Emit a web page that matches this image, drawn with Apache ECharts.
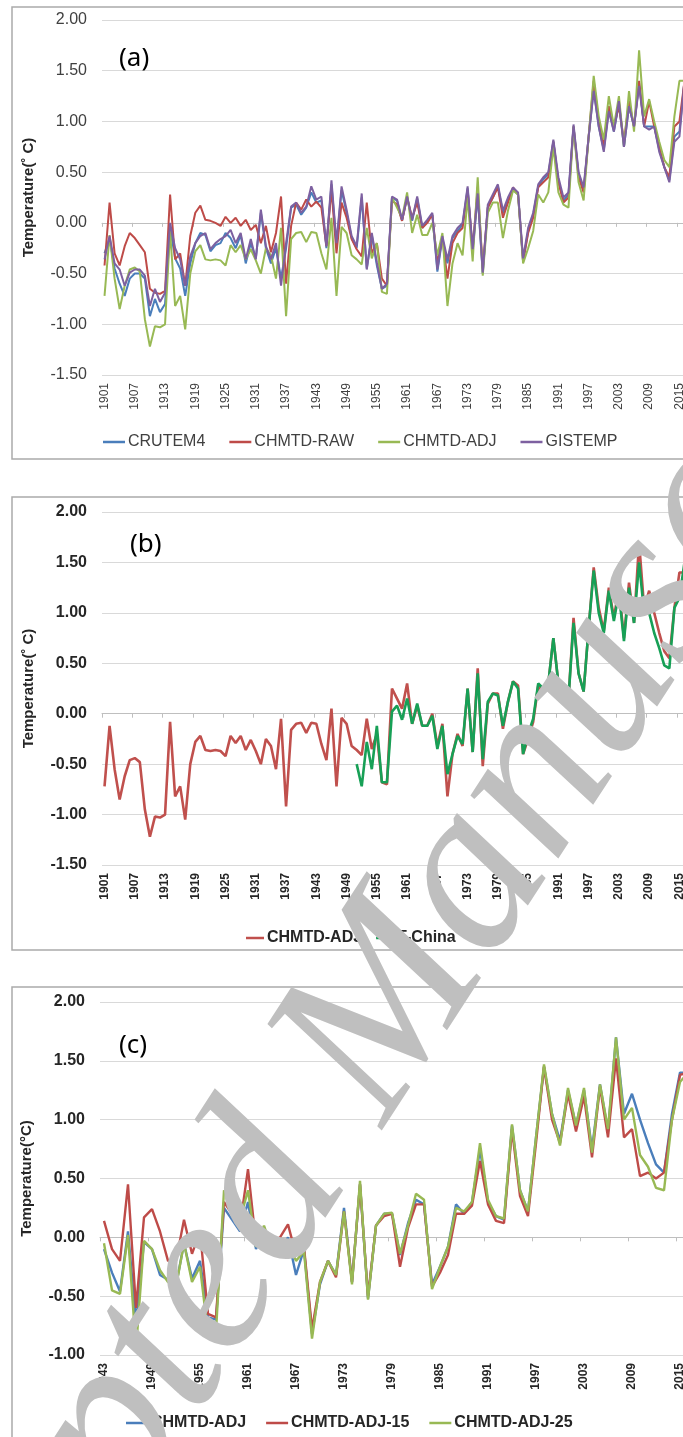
<!DOCTYPE html>
<html><head><meta charset="utf-8">
<script src="https://cdn.jsdelivr.net/npm/echarts@6/dist/echarts.min.js"></script>
<style>html,body{margin:0;padding:0;background:#fff;} #c{width:683px;height:1437px;}</style>
</head><body><div id="c"></div>
<script>
// ---------- categories ----------
const yearsA = []; for (let y = 1901; y <= 2016; y++) yearsA.push(String(y));
const yearsC = []; for (let y = 1943; y <= 2016; y++) yearsC.push(String(y));
const yTicksAB = [-1.5, -1.0, -0.5, 0.0, 0.5, 1.0, 1.5, 2.0];
const yTicksC = [-1.0, -0.5, 0.0, 0.5, 1.0, 1.5, 2.0];

// ---------- panel (a): 1901-2016 ----------
const crutem4 = [
-0.30,-0.15,-0.45,-0.60,-0.72,-0.55,-0.50,-0.50,-0.55,-0.92,
-0.75,-0.88,-0.80,-0.05,-0.35,-0.45,-0.72,-0.40,-0.20,-0.10,
-0.12,-0.28,-0.22,-0.20,-0.10,-0.15,-0.25,-0.12,-0.40,-0.20,
-0.35,0.10,-0.25,-0.40,-0.25,-0.55,-0.25,0.15,0.18,0.08,
0.15,0.30,0.20,0.22,-0.25,0.38,-0.22,0.32,0.10,-0.15,
-0.25,0.25,-0.45,-0.12,-0.42,-0.65,-0.62,0.25,0.22,0.02,
0.25,0.02,0.24,-0.05,0.02,0.08,-0.48,-0.15,-0.40,-0.15,
-0.08,-0.02,0.34,-0.28,0.27,-0.50,0.15,0.25,0.36,0.10,
0.22,0.33,0.28,-0.38,-0.08,0.08,0.36,0.43,0.48,0.80,
0.42,0.22,0.28,0.95,0.48,0.32,0.85,1.32,0.95,0.72,
1.12,0.90,1.18,0.75,1.15,0.95,1.38,0.95,0.95,0.95,
0.72,0.55,0.42,0.85,0.90,1.40];
const chmtdRaw = [
-0.42,0.20,-0.30,-0.42,-0.23,-0.10,-0.15,-0.22,-0.29,-0.65,
-0.69,-0.70,-0.67,0.28,-0.36,-0.30,-0.62,-0.13,0.10,0.17,
0.03,0.02,0.00,-0.03,0.06,0.00,0.05,-0.03,0.03,-0.07,
-0.02,-0.20,-0.03,-0.29,-0.10,0.26,-0.60,-0.03,0.20,0.13,
0.23,0.16,0.21,0.15,-0.23,0.33,-0.30,0.20,0.05,-0.16,
-0.26,-0.33,0.20,-0.30,-0.20,-0.55,-0.62,0.22,0.18,0.02,
0.25,0.05,0.20,-0.05,0.00,0.08,-0.40,-0.15,-0.55,-0.20,
-0.10,-0.05,0.32,-0.25,0.35,-0.45,0.15,0.25,0.35,0.05,
0.20,0.35,0.28,-0.38,-0.10,0.05,0.35,0.40,0.45,0.80,
0.40,0.20,0.25,0.95,0.45,0.30,0.85,1.40,1.00,0.75,
1.15,0.95,1.15,0.80,1.20,0.95,1.40,0.95,1.20,0.95,
0.75,0.55,0.45,0.95,1.00,1.40];
const chmtdAdj = [
-0.72,-0.12,-0.55,-0.85,-0.62,-0.46,-0.44,-0.48,-0.95,-1.22,
-1.02,-1.03,-1.00,-0.08,-0.82,-0.72,-1.05,-0.50,-0.28,-0.22,
-0.36,-0.37,-0.36,-0.37,-0.42,-0.22,-0.29,-0.22,-0.36,-0.26,
-0.37,-0.50,-0.25,-0.32,-0.55,-0.05,-0.92,-0.16,-0.10,-0.09,
-0.19,-0.09,-0.10,-0.30,-0.46,0.05,-0.72,-0.04,-0.10,-0.32,
-0.36,-0.41,-0.05,-0.35,-0.20,-0.68,-0.70,0.25,0.15,0.05,
0.30,-0.10,0.08,-0.12,-0.12,0.00,-0.32,-0.10,-0.82,-0.40,
-0.20,-0.32,0.25,-0.38,0.45,-0.52,0.10,0.20,0.20,-0.15,
0.12,0.32,0.28,-0.40,-0.25,-0.08,0.28,0.20,0.30,0.75,
0.30,0.18,0.15,0.95,0.40,0.22,0.85,1.45,1.05,0.82,
1.25,0.95,1.25,0.75,1.30,0.90,1.70,1.05,1.22,1.00,
0.80,0.62,0.55,1.05,1.40,1.40];
const gistemp = [
-0.36,-0.13,-0.40,-0.46,-0.62,-0.49,-0.46,-0.46,-0.52,-0.82,
-0.65,-0.78,-0.69,0.00,-0.25,-0.36,-0.62,-0.33,-0.20,-0.13,
-0.10,-0.26,-0.20,-0.16,-0.13,-0.07,-0.20,-0.10,-0.36,-0.16,
-0.36,0.13,-0.23,-0.36,-0.20,-0.62,-0.20,0.16,0.20,0.10,
0.16,0.36,0.23,0.26,-0.23,0.42,-0.20,0.36,0.13,-0.13,
-0.23,0.29,-0.46,-0.10,-0.39,-0.65,-0.60,0.26,0.23,0.03,
0.26,0.03,0.26,-0.03,0.03,0.10,-0.46,-0.13,-0.36,-0.13,
-0.05,0.00,0.36,-0.26,0.29,-0.49,0.18,0.28,0.38,0.12,
0.25,0.35,0.30,-0.35,-0.05,0.10,0.38,0.45,0.50,0.82,
0.45,0.25,0.30,0.97,0.50,0.35,0.85,1.30,0.95,0.70,
1.10,0.90,1.20,0.75,1.15,0.95,1.35,0.95,0.92,0.95,
0.70,0.55,0.40,0.80,0.85,1.40];

// ---------- panel (b): T-China 1951-2016 ----------
const tChina = [
-0.50,-0.72,-0.28,-0.55,-0.12,-0.68,-0.68,0.02,0.08,-0.06,
0.15,-0.10,0.10,-0.12,-0.12,-0.02,-0.35,-0.12,-0.60,-0.40,
-0.22,-0.30,0.25,-0.38,0.40,-0.45,0.12,0.20,0.18,-0.12,
0.12,0.32,0.25,-0.40,-0.20,-0.05,0.30,0.25,0.30,0.75,
0.30,0.20,0.15,0.90,0.40,0.22,0.85,1.42,1.00,0.80,
1.22,0.92,1.20,0.72,1.25,0.90,1.50,1.00,1.00,0.80,
0.65,0.48,0.45,1.05,1.15,1.50];
const tChinaStart = 1951;

// ---------- panel (c): 1943-2016 ----------
const adj15 = [
0.14,-0.10,-0.20,0.45,-0.60,0.17,0.24,0.05,-0.20,-0.20,
0.15,-0.14,0.05,-0.65,-0.68,0.30,0.20,0.10,0.58,-0.05,
0.06,-0.05,0.00,0.11,-0.15,-0.08,-0.78,-0.38,-0.20,-0.34,
0.22,-0.38,0.45,-0.50,0.10,0.18,0.20,-0.25,0.08,0.28,
0.28,-0.42,-0.30,-0.15,0.20,0.20,0.27,0.65,0.28,0.14,
0.12,0.92,0.35,0.18,0.80,1.45,1.00,0.80,1.22,0.90,
1.20,0.68,1.28,0.85,1.52,0.85,0.92,0.52,0.55,0.50,
0.55,1.00,1.38,1.40];
const adj25 = [
-0.05,-0.45,-0.48,0.02,-0.95,-0.03,-0.10,-0.28,-0.38,-0.42,
-0.05,-0.38,-0.25,-0.82,-0.80,0.40,0.28,0.15,0.40,-0.08,
0.10,-0.10,-0.12,-0.05,-0.20,-0.12,-0.86,-0.38,-0.20,-0.32,
0.22,-0.40,0.48,-0.53,0.10,0.20,0.21,-0.14,0.10,0.37,
0.32,-0.44,-0.25,-0.08,0.25,0.22,0.30,0.80,0.32,0.18,
0.16,0.96,0.40,0.22,0.85,1.47,1.05,0.78,1.27,0.95,
1.27,0.72,1.30,0.92,1.70,1.00,1.10,0.70,0.60,0.42,
0.40,1.00,1.32,1.40];

// ---------- build ----------
const FONT = "'Liberation Sans', Arial, sans-serif";
const C = {blue:'#4A7EBB', red:'#BE4B48', green:'#98B954', purple:'#7D60A0', tgreen:'#17A056'};
const tChinaFull = new Array(tChinaStart - 1901).fill(null).concat(tChina);
const adjC = chmtdAdj.slice(1943 - 1901);

function xAxisCfg(idx, data, bold) {
  return {type:'category', gridIndex:idx, data:data, boundaryGap:true,
    axisLine:{show:true, lineStyle:{color:'#BFBFBF', width:1}},
    axisTick:{show:true, interval:5, length:4, lineStyle:{color:'#BFBFBF'}},
    axisLabel:{interval:5, rotate:90, margin:8, color: bold ? '#262626' : '#404040', fontFamily:FONT,
      fontSize:12, fontWeight: bold ? 'bold' : 'normal'},
    splitLine:{show:false}};
}
function yAxisCfg(idx, min, name, bold) {
  return {type:'value', gridIndex:idx, min:min, max:2, interval:0.5,
    name:name, nameLocation:'middle', nameGap:66, nameRotate:90,
    nameTextStyle:{fontFamily:FONT, fontSize:15, fontWeight:'bold', color:'#262626'},
    axisLine:{show:false}, axisTick:{show:false},
    axisLabel:{margin:15, color: bold ? '#262626' : '#404040', fontFamily:FONT, fontSize:16,
      fontWeight: bold ? 'bold' : 'normal', formatter:v => v.toFixed(2)},
    splitLine:{show:true, lineStyle:{color:'#D9D9D9', width:1}}};
}
function line(name, data, color, xi, w) {
  return {name:name, type:'line', xAxisIndex:xi, yAxisIndex:xi, data:data,
    showSymbol:false, symbol:'none', smooth:false, connectNulls:false,
    lineStyle:{color:color, width:w}, itemStyle:{color:color}, animation:false};
}
function legendCfg(names, left, top, bold, gap, iw) {
  return {data:names, left:left, top:top, orient:'horizontal', icon:'rect',
    itemWidth:iw, itemHeight:2.5, itemGap:gap, padding:0,
    formatter:n => n.split(':')[1],
    textStyle:{fontFamily:FONT, fontSize:16, color: bold ? '#262626' : '#404040', fontWeight: bold ? 'bold':'normal', padding:[0,0,0,-2]},
    selectedMode:false};
}

const chart = echarts.init(document.getElementById('c'), null, {renderer:'canvas'});
const option = {
  backgroundColor:'#fff',
  animation:false,
  grid:[
    {left:102, top:20, width:585, height:355, containLabel:false, outerBoundsMode:'none'},
    {left:102, top:512, width:585, height:353, containLabel:false, outerBoundsMode:'none'},
    {left:100, top:1002, width:592, height:353, containLabel:false, outerBoundsMode:'none'}
  ],
  xAxis:[xAxisCfg(0, yearsA, false), xAxisCfg(1, yearsA, true), xAxisCfg(2, yearsC, true)],
  yAxis:[yAxisCfg(0, -1.5, 'Temperature(\u02DA C)', false), yAxisCfg(1, -1.5, 'Temperature(\u02DA C)', true),
         yAxisCfg(2, -1.0, 'Temperature(\u00B0C)', true)],
  legend:[
    legendCfg(['a:CRUTEM4','a:CHMTD-RAW','a:CHMTD-ADJ','a:GISTEMP'], 103, 434, false, 24, 22),
    legendCfg(['b:CHMTD-ADJ','b:T-China'], 246, 930, true, 14, 18),
    legendCfg(['c:CHMTD-ADJ','c:CHMTD-ADJ-15','c:CHMTD-ADJ-25'], 126, 1415, true, 20, 22)
  ],
  series:[
    line('a:CRUTEM4', crutem4, C.blue, 0, 2),
    line('a:CHMTD-RAW', chmtdRaw, C.red, 0, 2),
    line('a:CHMTD-ADJ', chmtdAdj, C.green, 0, 2),
    line('a:GISTEMP', gistemp, C.purple, 0, 2),
    line('b:CHMTD-ADJ', chmtdAdj, '#C0504D', 1, 2.6),
    line('b:T-China', tChinaFull, C.tgreen, 1, 2.6),
    line('c:CHMTD-ADJ', adjC, C.blue, 2, 2.4),
    line('c:CHMTD-ADJ-15', adj15, C.red, 2, 2.4),
    line('c:CHMTD-ADJ-25', adj25, C.green, 2, 2.4)
  ],
  graphic:[
    {type:'rect', shape:{x:12, y:7, width:700, height:452}, style:{fill:'none', stroke:'#ABABAB', lineWidth:1.5}, z:-1, silent:true},
    {type:'rect', shape:{x:12, y:497, width:700, height:453}, style:{fill:'none', stroke:'#ABABAB', lineWidth:1.5}, z:-1, silent:true},
    {type:'rect', shape:{x:12, y:987, width:700, height:470}, style:{fill:'none', stroke:'#ABABAB', lineWidth:1.5}, z:-1, silent:true},
    {type:'text', x:119, y:46, style:{text:'(a)', font:"26px 'Noto Sans', sans-serif", fill:'#000'}, z:50},
    {type:'text', x:130, y:532, style:{text:'(b)', font:"26px 'Noto Sans', sans-serif", fill:'#000'}, z:50},
    {type:'text', x:119, y:1033, style:{text:'(c)', font:"26px 'Noto Sans', sans-serif", fill:'#000'}, z:50},
    {type:'text', x:376, y:1026, rotation:0.995, z:100, silent:true,
     style:{text:'Accepted Manuscript', font:"italic 235px 'Liberation Serif', serif", fill:'#BFBFBF',
       textAlign:'center', textVerticalAlign:'middle'}}
  ]
};
chart.setOption(option);
</script></body></html>
